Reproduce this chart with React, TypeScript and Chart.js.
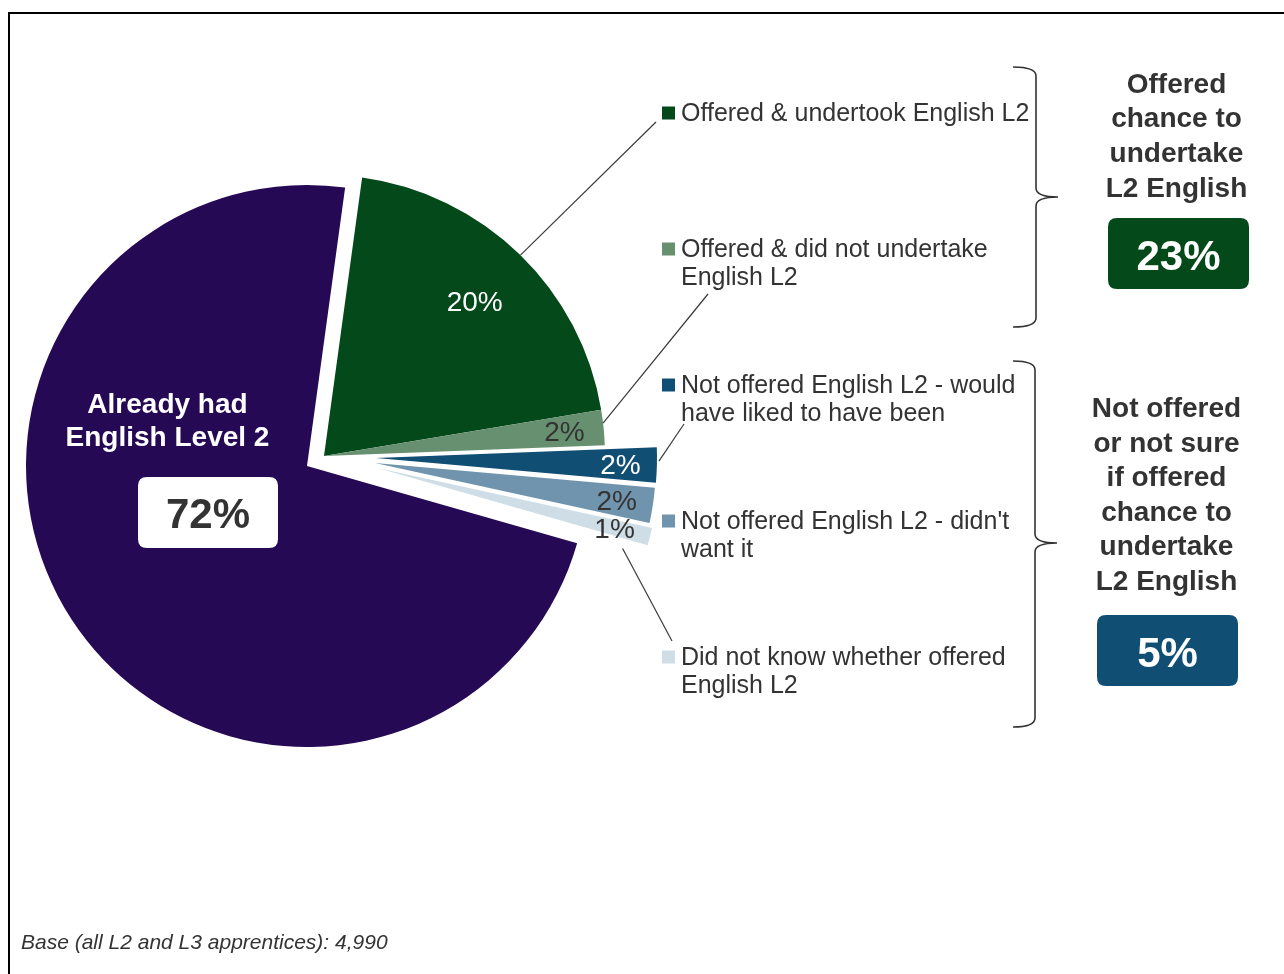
import { useEffect, useRef } from 'react';
import { Chart, registerables } from 'chart.js';

Chart.register(...registerables);

// ---------- data ----------
const CATEGORIES = [
  'Offered & undertook English L2',
  'Offered & did not undertake English L2',
  'Not offered English L2 - would have liked to have been',
  "Not offered English L2 - didn't want it",
  'Did not know whether offered English L2',
  'Already had English Level 2',
];
const VALUES = [20, 2, 2, 2, 1, 72];
const LEGEND_LINES = [
  ['Offered & undertook English L2'],
  ['Offered & did not undertake', 'English L2'],
  ['Not offered English L2 - would', 'have liked to have been'],
  ["Not offered English L2 - didn't", 'want it'],
  ['Did not know whether offered', 'English L2'],
];
const MAIN_LABEL = ['Already had', 'English Level 2'];
const GROUP_TITLES = [
  ['Offered', 'chance to', 'undertake', 'L2 English'],
  ['Not offered', 'or not sure', 'if offered', 'chance to', 'undertake', 'L2 English'],
];
const GROUP_TOTALS = ['23%', '5%'];
const BASE_NOTE = 'Base (all L2 and L3 apprentices): 4,990';

// ---------- styles ----------
const SLICE_COLORS = ['#03491a', '#669070', '#104e74', '#7094ae', '#cedde6', '#260955'];
const VALUE_LABEL_COLORS = ['#ffffff', '#333333', '#ffffff', '#333333', '#333333'];
const VALUE_LABEL_RADIUS = [0.77, 0.86, 0.87, 0.87, 0.87];
const SLICE_SHIFTS = [[17, -10], [17, -10], [69, -8], [68, -3], [70.5, 2], [0, 0]];
const LEADER_STARTS = [
  { da: 0.2, k: 1.0 },
  { da: -0.9, k: 1.0 },
  { da: -0.8, k: 1.007 },
  null,
  { da: 4, k: 0.918 },
];
const LEADER_ENDS = [[656, 122], [708, 294], [684, 424], null, [672, 641]];
const FONT = '"Liberation Sans", Arial, Helvetica, sans-serif';
const TEXT_DARK = '#333333';

const explodePlugin = {
  id: 'explodeSlices',
  beforeDatasetsDraw(chart: any) {
    const ctx = chart.ctx;
    const meta = chart.getDatasetMeta(0);
    meta.data.forEach((arc: any, i: number) => {
      ctx.save();
      ctx.translate(SLICE_SHIFTS[i][0], SLICE_SHIFTS[i][1]);
      arc.draw(ctx);
      ctx.restore();
    });
    return false;
  },
};

function roundRect(ctx: CanvasRenderingContext2D, x: number, y: number, w: number, h: number, r: number) {
  ctx.beginPath();
  ctx.moveTo(x + r, y);
  ctx.lineTo(x + w - r, y);
  ctx.quadraticCurveTo(x + w, y, x + w, y + r);
  ctx.lineTo(x + w, y + h - r);
  ctx.quadraticCurveTo(x + w, y + h, x + w - r, y + h);
  ctx.lineTo(x + r, y + h);
  ctx.quadraticCurveTo(x, y + h, x, y + h - r);
  ctx.lineTo(x, y + r);
  ctx.quadraticCurveTo(x, y, x + r, y);
  ctx.closePath();
}

function brace(ctx: CanvasRenderingContext2D, xEnd: number, xSpine: number, xTip: number, yTop: number, yMid: number, yBot: number) {
  ctx.beginPath();
  ctx.moveTo(xEnd, yTop);
  ctx.quadraticCurveTo(xSpine, yTop, xSpine, yTop + 9);
  ctx.lineTo(xSpine, yMid - 9);
  ctx.quadraticCurveTo(xSpine, yMid, xTip, yMid);
  ctx.quadraticCurveTo(xSpine, yMid, xSpine, yMid + 9);
  ctx.lineTo(xSpine, yBot - 9);
  ctx.quadraticCurveTo(xSpine, yBot, xEnd, yBot);
  ctx.stroke();
}

const annotationPlugin = {
  id: 'annotations',
  afterDraw(chart: any) {
    const ctx: CanvasRenderingContext2D = chart.ctx;
    const meta = chart.getDatasetMeta(0);
    ctx.save();

    // frame
    ctx.strokeStyle = '#000';
    ctx.lineWidth = 2;
    ctx.beginPath();
    ctx.moveTo(9, 980);
    ctx.lineTo(9, 13);
    ctx.lineTo(1290, 13);
    ctx.stroke();

    // value labels & leader lines
    meta.data.forEach((arc: any, i: number) => {
      if (i >= LEGEND_LINES.length) return;
      const cx = arc.x + SLICE_SHIFTS[i][0];
      const cy = arc.y + SLICE_SHIFTS[i][1];
      const mid = (arc.startAngle + arc.endAngle) / 2;
      const r = arc.outerRadius * VALUE_LABEL_RADIUS[i];
      const lx = cx + Math.cos(mid) * r;
      const ly = cy + Math.sin(mid) * r;
      ctx.font = `28px ${FONT}`;
      ctx.fillStyle = VALUE_LABEL_COLORS[i];
      ctx.textAlign = 'center';
      ctx.textBaseline = 'alphabetic';
      ctx.fillText(`${VALUES[i]}%`, lx, ly + 10);

      const ls = LEADER_STARTS[i];
      const le = LEADER_ENDS[i];
      if (ls && le) {
        const a = mid + (ls.da * Math.PI) / 180;
        const sx = cx + Math.cos(a) * arc.outerRadius * ls.k;
        const sy = cy + Math.sin(a) * arc.outerRadius * ls.k;
        ctx.strokeStyle = '#3a3a3a';
        ctx.lineWidth = 1.2;
        ctx.beginPath();
        ctx.moveTo(sx, sy);
        ctx.lineTo(le[0], le[1]);
        ctx.stroke();
      }
    });

    // main slice label
    ctx.fillStyle = '#ffffff';
    ctx.font = `bold 28px ${FONT}`;
    ctx.textAlign = 'center';
    ctx.fillText(MAIN_LABEL[0], 167.5, 412.5);
    ctx.fillText(MAIN_LABEL[1], 167.5, 445.5);
    roundRect(ctx, 138, 477, 140, 71, 9);
    ctx.fillStyle = '#ffffff';
    ctx.fill();
    ctx.fillStyle = TEXT_DARK;
    ctx.font = `bold 42px ${FONT}`;
    ctx.fillText(`${VALUES[5]}%`, 208, 527.5);

    // legend
    ctx.textAlign = 'left';
    ctx.font = `25px ${FONT}`;
    LEGEND_LINES.forEach((lines, i) => {
      const base = 120.5 + i * 136;
      ctx.fillStyle = SLICE_COLORS[i];
      ctx.fillRect(662, base - 14, 13, 13);
      ctx.fillStyle = TEXT_DARK;
      lines.forEach((t, j) => ctx.fillText(t, 681, base + j * 28.6));
    });

    // braces
    ctx.strokeStyle = '#333333';
    ctx.lineWidth = 1.6;
    brace(ctx, 1013, 1036, 1058, 67, 197, 327);
    brace(ctx, 1013, 1035, 1057, 361, 543, 727);

    // group titles
    ctx.fillStyle = TEXT_DARK;
    ctx.font = `bold 28px ${FONT}`;
    ctx.textAlign = 'center';
    GROUP_TITLES[0].forEach((t, j) => ctx.fillText(t, 1176.5, 92.7 + j * 34.65));
    GROUP_TITLES[1].forEach((t, j) => ctx.fillText(t, 1166.5, 417 + j * 34.5));

    // totals boxes
    roundRect(ctx, 1108, 218, 141, 71, 9);
    ctx.fillStyle = SLICE_COLORS[0];
    ctx.fill();
    roundRect(ctx, 1097, 615, 141, 71, 9);
    ctx.fillStyle = SLICE_COLORS[2];
    ctx.fill();
    ctx.fillStyle = '#ffffff';
    ctx.font = `bold 42px ${FONT}`;
    ctx.fillText(GROUP_TOTALS[0], 1178.5, 270);
    ctx.fillText(GROUP_TOTALS[1], 1167.5, 666.5);

    // base note
    ctx.fillStyle = TEXT_DARK;
    ctx.font = `italic 21px ${FONT}`;
    ctx.textAlign = 'left';
    ctx.fillText(BASE_NOTE, 21, 949);

    ctx.restore();
  },
};

export default function App() {
  const canvasRef = useRef<HTMLCanvasElement | null>(null);

  useEffect(() => {
    if (!canvasRef.current) return;
    const chart = new Chart(canvasRef.current, {
      type: 'pie',
      data: {
        labels: CATEGORIES,
        datasets: [
          {
            data: VALUES,
            backgroundColor: SLICE_COLORS,
            borderWidth: 0,
          },
        ],
      },
      options: {
        responsive: false,
        animation: false,
        devicePixelRatio: 1,
        rotation: 7.8,
        radius: 281,
        events: [],
        layout: { padding: { left: 0, top: 0, right: 670, bottom: 42 } },
        plugins: {
          legend: { display: false },
          tooltip: { enabled: false },
        },
      } as any,
      plugins: [explodePlugin, annotationPlugin],
    });
    return () => chart.destroy();
  }, []);

  return (
    <div
      style={{
        position: 'absolute',
        left: 0,
        top: 0,
        width: 1284,
        height: 974,
        overflow: 'hidden',
        background: '#ffffff',
      }}
    >
      <canvas ref={canvasRef} width={1284} height={974} style={{ display: 'block', width: 1284, height: 974 }} />
    </div>
  );
}
